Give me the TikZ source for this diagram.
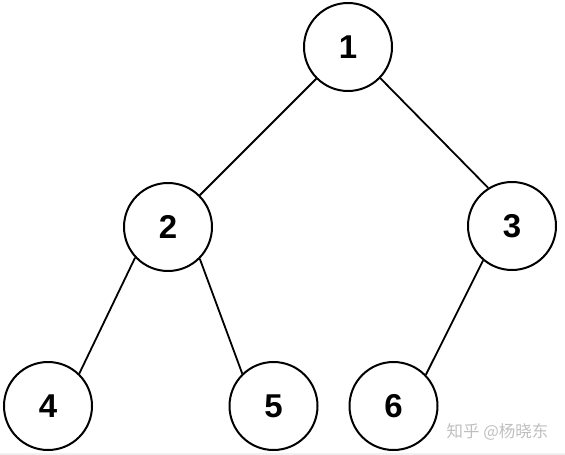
\documentclass[tikz,border=0pt]{standalone}
\usepackage{fontspec}
\setmainfont{Liberation Sans}
\newfontfamily\cjk{Noto Sans CJK SC}
\begin{document}
\begin{tikzpicture}[x=1pt,y=-1pt,
  tnode/.style={circle,draw=black,line width=2pt,minimum size=88pt,inner sep=0pt,
    font=\fontsize{33}{33}\selectfont\bfseries},
  tedge/.style={line width=1.8pt,draw=black}]
\useasboundingbox (0,0) rectangle (565,455);
\fill[gray!12] (0,453) rectangle (565,455);
\node[tnode] (n1) at (348,47) {1};
\node[tnode] (n2) at (168,227) {2};
\node[tnode] (n3) at (512,226) {3};
\node[tnode] (n4) at (48,406) {4};
\node[tnode] (n5) at (273.5,406) {5};
\node[tnode] (n6) at (393.5,406) {6};
\draw[tedge] (n1.225) -- (n2.45);
\draw[tedge] (n1.-44) -- (n3.122);
\draw[tedge] (n2.-137) -- (n4.46);
\draw[tedge] (n2.-45) -- (n5.134);
\draw[tedge] (n3.230) -- (n6.44);
\node[font=\cjk\fontsize{16.5}{16.5}\selectfont, text=black!25, inner sep=0pt] (wm) at (497.5,432) {知乎 @杨晓东};
\end{tikzpicture}
\end{document}
